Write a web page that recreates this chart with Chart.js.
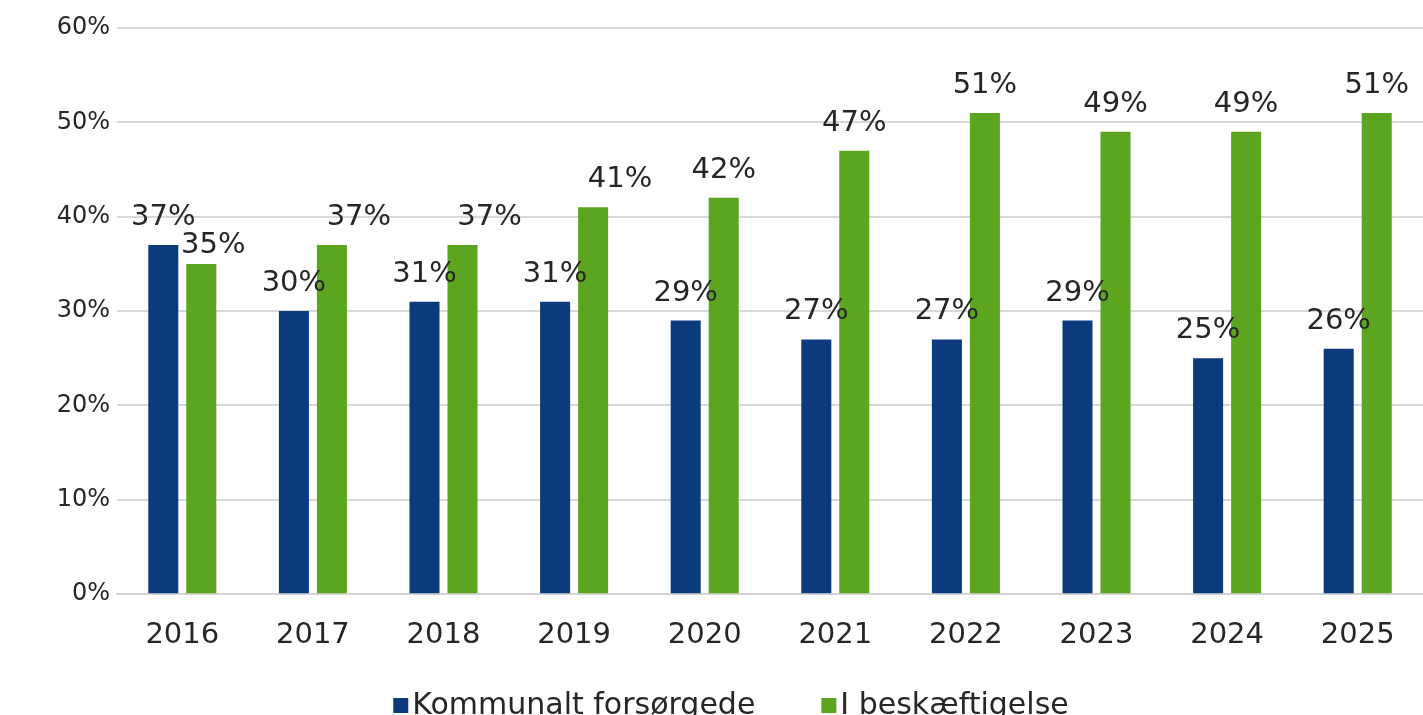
<!DOCTYPE html>
<html>
<head>
<meta charset="utf-8">
<script src="https://cdn.jsdelivr.net/npm/chart.js@4.4.1/dist/chart.umd.min.js"></script>
<style>
  html, body { margin: 0; padding: 0; background: #fff; }
  #wrap { width: 1423px; height: 715px; position: relative; }
</style>
</head>
<body>
<div id="wrap"><canvas id="chart"></canvas></div>
<script>
const years = ['2016', '2017', '2018', '2019', '2020', '2021', '2022', '2023', '2024', '2025'];
const kommunaltForsorgede = [37, 30, 31, 31, 29, 27, 27, 29, 25, 26];
const iBeskaeftigelse = [35, 37, 37, 41, 42, 47, 51, 49, 49, 51];
const seriesNames = ['Kommunalt forsørgede', 'I beskæftigelse'];
const yTicks = [0, 10, 20, 30, 40, 50, 60];

const BLUE = '#0b3a7d';
const GREEN = '#5ba51f';
const TEXT = '#262626';
const FONT = '"DejaVu Sans", Verdana, sans-serif';

// a few labels were moved by hand in the original (dataset -> index -> [dx, dy])
const labelNudge = { 1: { 0: [12, 9], 1: [27, 0], 2: [27, 0], 3: [27, 0] } };

const barLabels = {
  id: 'barLabels',
  afterDatasetsDraw(chart) {
    const ctx = chart.ctx;
    ctx.save();
    ctx.font = '29px ' + FONT;
    ctx.fillStyle = TEXT;
    ctx.textAlign = 'center';
    ctx.textBaseline = 'alphabetic';
    chart.data.datasets.forEach((ds, di) => {
      chart.getDatasetMeta(di).data.forEach((bar, i) => {
        const n = (labelNudge[di] && labelNudge[di][i]) || [0, 0];
        ctx.fillText(ds.data[i] + '%', bar.x + n[0], bar.y - 20 + n[1]);
      });
    });
    ctx.restore();
  }
};

const bottomLegend = {
  id: 'bottomLegend',
  afterDraw(chart) {
    const ctx = chart.ctx;
    ctx.save();
    ctx.font = '30px ' + FONT;
    ctx.textBaseline = 'alphabetic';
    ctx.textAlign = 'left';
    const box = 15, gap = 4, between = 66, baseline = 714;
    const items = chart.data.datasets.map(ds => ({ label: ds.label, color: ds.backgroundColor, w: ctx.measureText(ds.label).width }));
    const total = items.reduce((s, it) => s + box + gap + it.w, 0) + between * (items.length - 1);
    let x = 731 - total / 2;
    items.forEach(it => {
      ctx.fillStyle = it.color;
      ctx.fillRect(x, baseline - box - 1, box, box);
      x += box + gap;
      ctx.fillStyle = TEXT;
      ctx.fillText(it.label, x, baseline);
      x += it.w + between;
    });
    ctx.restore();
  }
};

new Chart(document.getElementById('chart'), {
  type: 'bar',
  data: {
    labels: years,
    datasets: [
      { label: seriesNames[0], data: kommunaltForsorgede, backgroundColor: BLUE },
      { label: seriesNames[1], data: iBeskaeftigelse, backgroundColor: GREEN }
    ]
  },
  options: {
    responsive: true,
    maintainAspectRatio: false,
    animation: false,
    devicePixelRatio: 1,
    categoryPercentage: 0.582,
    barPercentage: 0.79,
    layout: { padding: { top: 28, right: 0, bottom: 38, left: 0 } },
    plugins: {
      legend: { display: false },
      tooltip: { enabled: false }
    },
    scales: {
      x: {
        grid: { display: false, drawTicks: false },
        border: { display: true, color: '#d4d4d4', width: 2 },
        ticks: { color: TEXT, font: { family: FONT, size: 29 }, padding: 24, maxRotation: 0 }
      },
      y: {
        min: 0,
        max: 60,
        afterFit(scale) { scale.width = 117; },
        afterBuildTicks(scale) { scale.ticks = yTicks.map(v => ({ value: v })); },
        grid: { color: '#d9d9d9', lineWidth: 2, drawTicks: false },
        border: { display: false },
        ticks: {
          color: TEXT,
          font: { family: FONT, size: 24 },
          padding: 7,
          callback: v => v + '%'
        }
      }
    }
  },
  plugins: [barLabels, bottomLegend]
});
</script>
</body>
</html>
